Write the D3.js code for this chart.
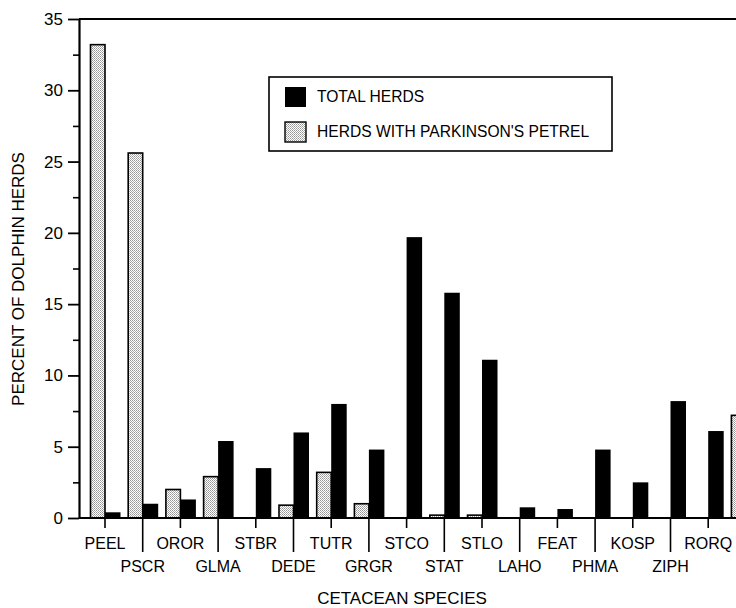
<!DOCTYPE html>
<html>
<head>
<meta charset="utf-8">
<script src="https://cdn.jsdelivr.net/npm/d3@7.9.0/dist/d3.min.js"></script>
<style>
  body { margin: 0; background: #fff; }
  svg { display: block; font-family: "Liberation Sans", Arial, Helvetica, sans-serif; }
</style>
</head>
<body>
<svg id="chart"></svg>
<script>
// species codes along the x axis (last one is cut off at the right edge)
const species = ["PEEL", "PSCR", "OROR", "GLMA", "STBR", "DEDE", "TUTR", "GRGR", "STCO",
                 "STAT", "STLO", "LAHO", "FEAT", "PHMA", "KOSP", "ZIPH", "RORQ", ""];
// percent of dolphin herds
const totalHerds  = [0.4, 1.0, 1.3, 5.4, 3.5, 6.0, 8.0, 4.8, 19.7, 15.8, 11.1, 0.75, 0.63, 4.8, 2.5, 8.2, 6.1, 0];
const petrelHerds = [33.2, 25.6, 2.0, 2.9, 0, 0.9, 3.2, 1.0, 0, 0.2, 0.2, 0, 0, 0, 0, 0, 0, 7.2];
const yMajor = [0, 5, 10, 15, 20, 25, 30, 35];
const yMinor = [2.5, 7.5, 12.5, 17.5, 22.5, 27.5, 32.5];
const seriesNames = ["TOTAL HERDS", "HERDS WITH PARKINSON'S PETREL"];

const width = 736, height = 608;
const marginLeft = 79, plotTop = 19, plotBottom = 518;

const svg = d3.select("#chart")
    .attr("width", width)
    .attr("height", height);

// stipple pattern for the petrel bars
const pat = svg.append("defs").append("pattern")
    .attr("id", "stipple")
    .attr("width", 2).attr("height", 2)
    .attr("patternUnits", "userSpaceOnUse");
pat.append("rect").attr("width", 2).attr("height", 2).attr("fill", "#fff");
pat.append("rect").attr("width", 1).attr("height", 1).attr("fill", "#959595");
pat.append("rect").attr("x", 1).attr("y", 1).attr("width", 1).attr("height", 1).attr("fill", "#b0b0b0");

const step = 37.7;
const x = d3.scaleBand()
    .domain(d3.range(species.length))
    .range([105 - step / 2, 105 - step / 2 + step * species.length])
    .padding(0);

const sub = d3.scaleBand()
    .domain(["petrel", "total"])
    .range([0, x.bandwidth()])
    .paddingInner(0)
    .paddingOuter(0.3);

const y = d3.scaleLinear().domain([0, 35]).range([plotBottom, plotTop]);

const data = species.map((s, i) => ({ i, s, total: totalHerds[i], petrel: petrelHerds[i] }));

// bars
const g = svg.append("g");
g.selectAll(".petrel")
    .data(data.filter(d => d.petrel > 0))
    .join("rect")
    .attr("class", "petrel")
    .attr("x", d => x(d.i) + sub("petrel"))
    .attr("y", d => y(d.petrel))
    .attr("width", sub.bandwidth())
    .attr("height", d => y(0) - y(d.petrel))
    .attr("fill", "url(#stipple)")
    .attr("stroke", "#000")
    .attr("stroke-width", 1.6);

g.selectAll(".total")
    .data(data.filter(d => d.total > 0))
    .join("rect")
    .attr("class", "total")
    .attr("x", d => x(d.i) + sub("total"))
    .attr("y", d => y(d.total))
    .attr("width", sub.bandwidth() + 1)
    .attr("height", d => y(0) - y(d.total))
    .attr("fill", "#000");

// y axis
const yAxis = svg.append("g")
    .attr("transform", `translate(${marginLeft},0)`)
    .call(d3.axisLeft(y).tickValues(yMajor).tickSize(11).tickSizeOuter(0).tickPadding(5));
yAxis.select(".domain").attr("stroke-width", 2.2);
yAxis.selectAll(".tick line").attr("stroke-width", 1.8);
yAxis.selectAll("text").attr("font-size", 17).attr("fill", "#000");

const yMinorAxis = svg.append("g")
    .attr("transform", `translate(${marginLeft},0)`)
    .call(d3.axisLeft(y).tickValues(yMinor).tickSize(6).tickSizeOuter(0).tickFormat(""));
yMinorAxis.select(".domain").remove();
yMinorAxis.selectAll(".tick line").attr("stroke-width", 1.6);

// top frame line
svg.append("line")
    .attr("x1", marginLeft).attr("x2", width)
    .attr("y1", y(35)).attr("y2", y(35))
    .attr("stroke", "#000").attr("stroke-width", 2.2);

// x axis
const xAxis = svg.append("g")
    .attr("transform", `translate(0,${plotBottom})`)
    .call(d3.axisBottom(x).tickFormat(i => species[i]).tickSize(10).tickSizeOuter(0));
xAxis.select(".domain").attr("d", `M${marginLeft},0H${width + 40}`).attr("stroke-width", 2.2);
xAxis.selectAll(".tick line")
    .attr("stroke-width", 1.6)
    .attr("y2", (d, k) => k % 2 ? 34 : 10);
xAxis.selectAll(".tick text")
    .attr("font-size", 16)
    .attr("fill", "#000")
    .attr("y", (d, k) => k % 2 ? 48 : 25)
    .attr("dy", "0.35em");

// axis titles
svg.append("text")
    .attr("x", 402).attr("y", 598)
    .attr("dy", "0.35em")
    .attr("text-anchor", "middle")
    .attr("font-size", 17)
    .text("CETACEAN SPECIES");

svg.append("text")
    .attr("transform", "translate(18,279) rotate(-90)")
    .attr("dy", "0.35em")
    .attr("text-anchor", "middle")
    .attr("font-size", 17)
    .text("PERCENT OF DOLPHIN HERDS");

// legend
const lg = svg.append("g");
lg.append("rect")
    .attr("x", 269).attr("y", 77).attr("width", 343).attr("height", 74)
    .attr("fill", "#fff").attr("stroke", "#000").attr("stroke-width", 1.6);
const fills = ["#000", "url(#stipple)"];
seriesNames.forEach((name, k) => {
    lg.append("rect")
        .attr("x", 285).attr("y", 87 + k * 35)
        .attr("width", 21).attr("height", 20)
        .attr("fill", fills[k])
        .attr("stroke", "#000").attr("stroke-width", k ? 1.4 : 0);
    lg.append("text")
        .attr("x", 317).attr("y", 97 + k * 35)
        .attr("dy", "0.35em")
        .attr("font-size", 15.6)
        .text(name);
});
</script>
</body>
</html>
